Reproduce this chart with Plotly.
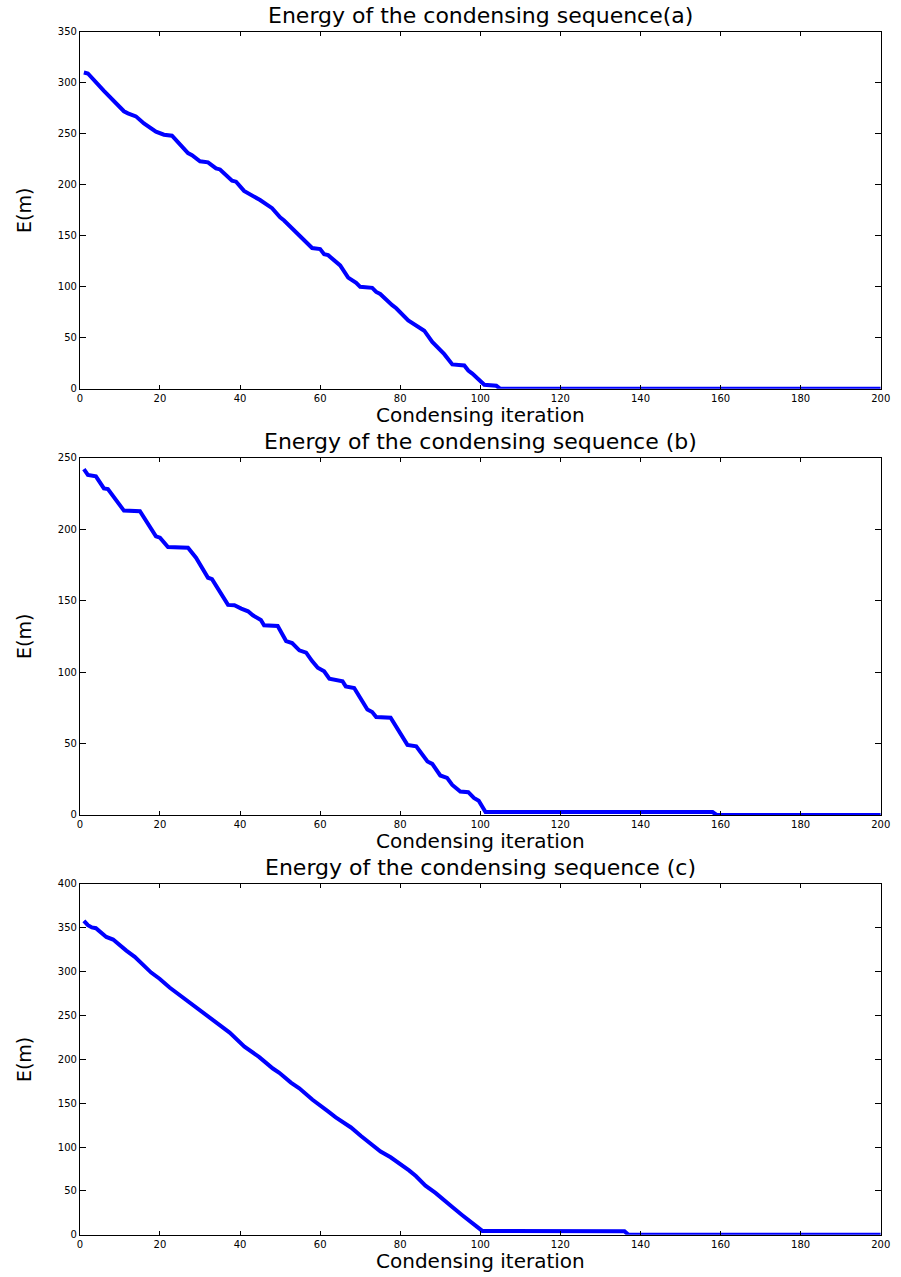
import plotly.graph_objects as go

# Energy curves of the three condensing sequences (breakpoints of each polyline)
iter_a = [1, 2, 6, 8, 11, 12, 14, 16, 19, 21, 23, 27, 28, 30, 32, 34, 35, 38, 39, 41,
          42, 43, 45, 48, 50, 51, 53, 54, 58, 60, 61, 62, 65, 67, 69, 70, 73, 74, 75, 78,
          79, 82, 84, 86, 88, 91, 93, 96, 97, 98, 101, 104, 105, 200]
energy_a = [310, 309, 292, 284, 272, 270, 267, 260, 252, 249, 248, 231, 229, 223, 222, 216,
            215, 204, 203, 194, 192, 190, 185, 177, 168, 165, 157, 154, 138, 137, 132, 131,
            121, 109, 104, 100, 99, 95, 93, 82, 79, 67, 62, 57, 46, 34, 24, 23, 18, 15, 4, 3,
            0, 0]

iter_b = [1, 2, 4, 6, 7, 9, 11, 15, 19, 20, 22, 27, 29, 32, 33, 37, 38.6, 40.3, 42, 43.2,
          45.2, 46, 49.4, 51.5, 53, 54.8, 56.5, 58, 59.4, 61, 62.3, 65.6, 66.4, 68.5, 71.8,
          73, 74, 77.6, 81.8, 84, 85.5, 86.8, 88, 90, 91.7, 93, 95, 97, 98.4, 99.6, 101.3,
          158, 159, 200]
energy_b = [242, 238, 237, 228.5, 228, 221, 213, 212.6, 195, 194, 187.5, 187, 180, 166, 165,
            147, 146.7, 144.4, 142.5, 139.7, 136.4, 132.7, 132.2, 121.7, 120.3, 115.2, 113.6,
            107.7, 103, 100.5, 95.3, 93.5, 90, 88.8, 73.8, 72, 68.5, 68, 49, 48, 42, 37.4,
            35.7, 27.6, 25.9, 21, 16.4, 15.9, 11.9, 10, 2, 2, 0, 0]

iter_c = [1, 2, 3, 4, 6.6, 8.3, 11.6, 13.7, 17.8, 19.9, 22.4, 24.9, 27.4, 30.3, 32, 34, 37.4,
          41.1, 42.8, 44.8, 48.2, 49.8, 52.7, 54.8, 58.1, 59.4, 61.9, 63.9, 66.4, 67.7, 70.2,
          72.2, 75.1, 77.6, 80.1, 82.2, 83.9, 86.3, 88.8, 91.3, 93, 95.5, 98, 100.5, 136,
          137, 200]
energy_c = [358, 353, 350.5, 349.6, 339.6, 336.6, 324, 317, 299, 292, 282, 273.5, 265, 255.6,
            250, 242, 230.6, 214.6, 209, 202.6, 189.6, 184.7, 173.5, 167, 154, 150, 141, 134,
            126, 122.4, 112.7, 105.6, 95, 88.4, 81, 73.5, 67, 56, 47.8, 37.3, 31.7, 22.4, 13,
            4.5, 4, 0, 0]

titles = ["Energy of the condensing sequence(a)",
          "Energy of the condensing sequence (b)",
          "Energy of the condensing sequence (c)"]
y_tops = [350, 250, 400]
x_tick_vals = list(range(0, 201, 20))

W, H = 901, 1277
# panel frames in figure pixels (left/right edges, top/bottom of each panel)
left_px, right_px = 78.0, 890.6
panels_px = [(25.9, 386.5), (456.0, 816.6), (886.3, 1240.5)]
ylabel_px = 22.0

FONT = "DejaVu Sans"
BLUE = "#0000ff"

fig = go.Figure()
series = [(iter_a, energy_a), (iter_b, energy_b), (iter_c, energy_c)]

annotations = []
for i, ((xs, ys), (top_px, bot_px)) in enumerate(zip(series, panels_px), start=1):
    xname = "x" if i == 1 else f"x{i}"
    yname = "y" if i == 1 else f"y{i}"
    fig.add_trace(go.Scatter(x=xs, y=ys, mode="lines", xaxis=xname, yaxis=yname,
                             line=dict(color=BLUE, width=4), showlegend=False,
                             hoverinfo="skip"))
    y0 = 1 - bot_px / H
    y1 = 1 - top_px / H
    axis_common = dict(showline=True, linecolor="black", linewidth=1, mirror="ticks",
                       ticks="inside", tickcolor="black", showgrid=False, zeroline=False,
                       tickfont=dict(family=FONT, size=10, color="black"))
    fig.layout[f"xaxis{'' if i == 1 else i}"] = dict(
        domain=[left_px / W, right_px / W], range=[0, 200], tickvals=x_tick_vals,
        ticklen=4, anchor=yname, **axis_common)
    fig.layout[f"yaxis{'' if i == 1 else i}"] = dict(
        domain=[y0, y1], range=[0, y_tops[i - 1]], dtick=50, ticklen=6,
        anchor=xname, **axis_common)

    xc = (left_px + right_px) / 2 / W
    annotations.append(dict(text=titles[i - 1], x=xc, y=y1, xref="paper", yref="paper",
                            xanchor="center", yanchor="bottom", yshift=2, showarrow=False,
                            font=dict(family=FONT, size=22, color="black")))
    annotations.append(dict(text="Condensing iteration", x=xc, y=y0, xref="paper",
                            yref="paper", xanchor="center", yanchor="top", yshift=-13,
                            borderpad=0, showarrow=False,
                            font=dict(family=FONT, size=20, color="black")))
    annotations.append(dict(text="E(m)", x=ylabel_px / W, y=(y0 + y1) / 2,
                            xref="paper", yref="paper", xanchor="center",
                            yanchor="middle", textangle=-90, showarrow=False,
                            font=dict(family=FONT, size=19, color="black")))

fig.update_layout(width=W, height=H, margin=dict(l=0, r=0, t=0, b=0),
                  plot_bgcolor="white", paper_bgcolor="white",
                  annotations=annotations)

# the page holds only the figure: no body margin and no scrollbars
page_css = ("document.documentElement.style.margin='0';"
            "document.documentElement.style.overflow='hidden';"
            "document.body.style.margin='0';"
            "document.body.style.overflow='hidden';")
fig.write_html("out.html", post_script=page_css)
